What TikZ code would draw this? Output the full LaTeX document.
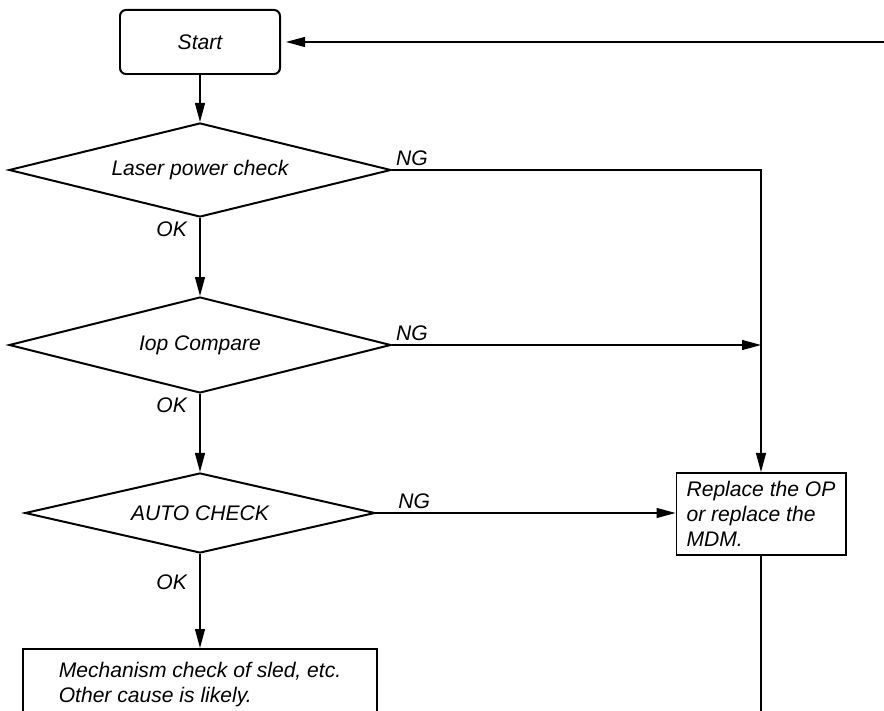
\documentclass[tikz,border=0pt]{standalone}
\usepackage{fontspec}
\setmainfont{Liberation Sans}
\usetikzlibrary{shapes.geometric,arrows.meta,positioning,calc}
\newcommand{\flowfont}{\fontsize{18}{21.3}\selectfont\itshape}

\begin{document}
\begin{tikzpicture}[
    x=0.03cm, y=-0.03cm,
    arr/.style={-{Triangle[length=0.57cm, width=0.3cm]}, line width=1pt},
    conn/.style={line width=1pt},
    box/.style={draw, line width=1.7pt, align=left, font=\flowfont},
    decision/.style={draw, diamond, aspect=4, line width=1.7pt, inner sep=0pt, font=\flowfont},
    lbl/.style={font=\flowfont, inner sep=3pt},
    oklbl/.style={lbl, xshift=-0.27cm}
]
    \useasboundingbox (0,0) rectangle (884,711);
    \clip (0,0) rectangle (884,711);

    \node[box, rounded corners=0.18cm, minimum width=4.8cm, minimum height=1.92cm] (start) at (200,42) {Start};
    \node[decision, minimum width=11.46cm, minimum height=2.82cm] (laser) at (200,170) {Laser power check};
    \node[decision, minimum width=11.46cm, minimum height=2.88cm] (iop) at (200,345) {Iop Compare};
    \node[decision, minimum width=10.5cm, minimum height=2.4cm] (auto) at (200,513) {AUTO CHECK};
    \node[box, minimum width=5.07cm, minimum height=2.46cm] (op) at (761,514) {Replace the OP\\or replace the\\MDM.};
    \node[box, minimum width=10.59cm, minimum height=2.16cm] (mech) at (200,685) {Mechanism check of sled, etc.\\Other cause is likely.};

    \coordinate (entry) at (900,42);
    \coordinate (exit) at (761,730);

    \draw[arr, shorten >=0.15cm] (entry) -- (start.east);
    \draw[arr] (start) -- (laser);
    \draw[arr] (laser) -- node[oklbl, below left, pos=0] {OK} (iop);
    \draw[arr] (iop) -- node[oklbl, below left, pos=0] {OK} (auto);
    \draw[arr] (auto) -- node[oklbl, left, pos=0.3] {OK} (mech);

    \draw[arr] (laser.east) -| node[lbl, above right, pos=0] {NG} (op.north);
    \draw[arr] (iop.east) -- node[lbl, above right, pos=0] {NG} (iop.east -| op.north);
    \draw[arr] (auto.east) -- node[lbl, above right, pos=0, xshift=0.55cm] {NG} (auto.east -| op.west);
    \draw[conn] (op.south) -- (exit);
\end{tikzpicture}
\end{document}
